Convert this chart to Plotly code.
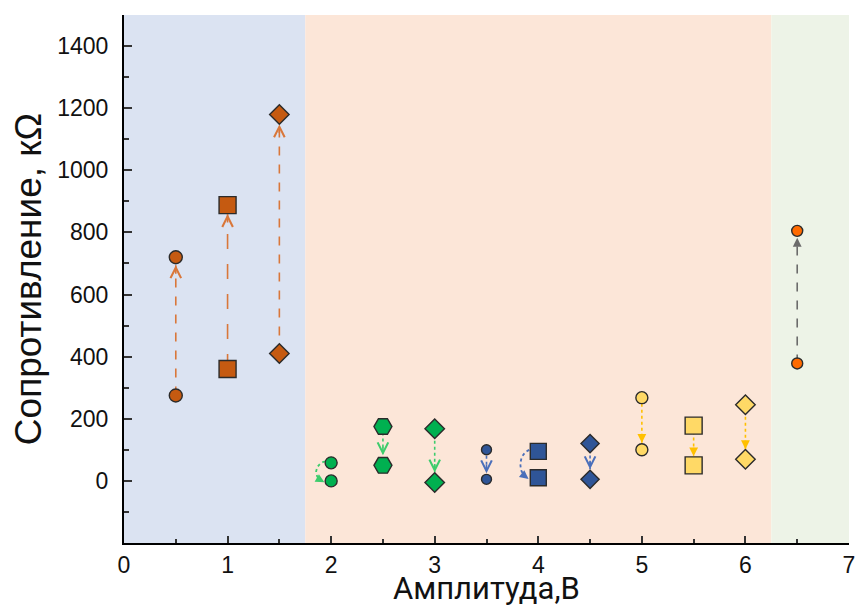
import numpy as np
import plotly.graph_objects as go

# ---------------- data ----------------
amplitude = [0.5, 1.0, 1.5, 2.0, 2.5, 3.0, 3.5, 4.0, 4.5, 5.0, 5.5, 6.0, 6.5]
r_before = [275, 360, 410, 58, 175, 168, 100, 95, 120, 268, 178, 245, 378]
r_after = [720, 888, 1180, 0, 50, -5, 5, 10, 5, 100, 50, 70, 805]
region_edges = [0, 1.75, 6.25, 7]
y_ticks = [0, 200, 400, 600, 800, 1000, 1200, 1400]
x_ticks = [0, 1, 2, 3, 4, 5, 6, 7]

# ---------------- styles ----------------
region_colors = ["#dbe3f2", "#fce6d8", "#edf3e7"]
symbols = ["circle", "square", "diamond", "circle", "hexagon2", "diamond",
           "circle", "square", "diamond", "circle", "square", "diamond", "circle"]
sizes = [13, 17, 15, 12, 18, 15, 10, 16, 14, 12, 17, 15, 11]
gaps = [8, 9, 10, 7, 10, 10, 6, 9, 10, 7, 9, 10, 7]
fills = ["#c55a11"] * 3 + ["#00b050"] * 3 + ["#2f5597"] * 3 + ["#ffd966"] * 3 + ["#ff6a00"]
line_colors = ["#d9773a"] * 3 + ["#3dcc6c"] * 3 + ["#4a6fba"] * 3 + ["#ffc000"] * 3 + ["#6b6b6b"]
dashes = ["dash", "longdash", "dash"] + ["dot"] * 9 + ["dash"]
heads = [5] * 9 + [2] * 3 + [2]
curved = [False] * 13
curved[3] = True
curved[7] = True

X0, X1 = 0, 7
Y0, Y1 = -200, 1500
ML, MR, MT, MB = 124, 6, 15, 65
W, H = 855, 608
PW, PH = W - ML - MR, H - MT - MB
dxp = (X1 - X0) / PW   # data per px
dyp = (Y1 - Y0) / PH

fig = go.Figure()

shapes = []
for i in range(3):
    shapes.append(dict(type="rect", xref="x", yref="paper", x0=region_edges[i], x1=region_edges[i + 1],
                       y0=0, y1=1, fillcolor=region_colors[i], line_width=0, layer="below"))

annotations = []
for i, x in enumerate(amplitude):
    a, b = r_before[i], r_after[i]
    if not curved[i]:
        sgn = 1 if b > a else -1
        tip = b - sgn * gaps[i] * dyp
        fig.add_trace(go.Scatter(x=[x, x], y=[a, tip], mode="lines",
                                 line=dict(color=line_colors[i], width=1.6, dash=dashes[i]),
                                 hoverinfo="skip", showlegend=False))
        annotations.append(dict(x=x, y=tip, ax=x, ay=tip - sgn * 10 * dyp, axref="x", ayref="y",
                                xref="x", yref="y", text="", showarrow=True, arrowhead=heads[i],
                                arrowsize=1.3 if heads[i] == 5 else 1.1, arrowwidth=1.6,
                                arrowcolor=line_colors[i], standoff=0))
    else:
        dist_px = abs(a - b) / dyp
        cy = (a + b) / 2
        rx = 12
        ry = dist_px / 2 + 2
        cx_px_off = -3 if symbols[i] == "circle" else -6
        t = np.radians(np.linspace(105, 228, 30))
        xs = x + (cx_px_off + rx * np.cos(t)) * dxp
        ys = cy + ry * np.sin(t) * dyp
        fig.add_trace(go.Scatter(x=xs, y=ys, mode="lines",
                                 line=dict(color=line_colors[i], width=1.8, dash="dot"),
                                 hoverinfo="skip", showlegend=False))
        te = np.radians(252)
        tp = np.radians(225)
        annotations.append(dict(x=x + (cx_px_off + rx * np.cos(te)) * dxp, y=cy + ry * np.sin(te) * dyp,
                                ax=x + (cx_px_off + rx * np.cos(tp)) * dxp, ay=cy + ry * np.sin(tp) * dyp,
                                axref="x", ayref="y", xref="x", yref="y", text="", showarrow=True,
                                arrowhead=2, arrowsize=1.1, arrowwidth=1.6,
                                arrowcolor=line_colors[i], standoff=0))

for i, x in enumerate(amplitude):
    fig.add_trace(go.Scatter(x=[x, x], y=[r_before[i], r_after[i]], mode="markers",
                             marker=dict(symbol=symbols[i], size=sizes[i], color=fills[i],
                                         line=dict(color="#2b2b2b", width=1.4)),
                             showlegend=False))

# x-axis title as a paper-anchored annotation at the bottom of the page
annotations.append(dict(text="Амплитуда,В", xref="paper", yref="paper", x=0.5, y=-MB / PH,
                        yanchor="bottom", xanchor="center", showarrow=False, borderpad=0,
                        font=dict(family="Roboto, sans-serif", size=31, color="#111111")))

axis_font = dict(family="Liberation Sans, Arial, sans-serif", size=23, color="#111111")
fig.update_layout(
    width=W, height=H,
    margin=dict(l=ML, r=MR, t=MT, b=MB, autoexpand=False),
    paper_bgcolor="white", plot_bgcolor="white",
    shapes=shapes, annotations=annotations,
    xaxis=dict(range=[X0, X1], tickvals=x_ticks, ticks="inside", ticklen=7, tickwidth=2,
               tickcolor="#333333", showline=True, linecolor="black", linewidth=2,
               showgrid=False, zeroline=False, tickfont=axis_font, ticklabelstandoff=0,
               ticklabeloverflow="allow", automargin=False,
               minor=dict(dtick=0.5, ticks="inside", ticklen=4, tickwidth=2, tickcolor="#333333", showgrid=False)),
    yaxis=dict(range=[Y0, Y1], tickvals=y_ticks, ticks="inside", ticklen=8, tickwidth=2,
               tickcolor="#333333", showline=True, linecolor="black", linewidth=2,
               showgrid=False, zeroline=False, tickfont=axis_font, ticklabelstandoff=9,
               ticklabeloverflow="allow", automargin=False,
               minor=dict(dtick=100, tick0=0, ticks="inside", ticklen=5, tickwidth=2, tickcolor="#333333", showgrid=False),
               title=dict(text="Сопротивление, кΩ", font=dict(family="Liberation Sans, Arial, sans-serif", size=37, color="#111111"),
                          standoff=4)),
)

fig.write_html("out.html", config={"displayModeBar": False},
               post_script="document.body.style.margin='0';document.body.style.overflow='hidden';")
